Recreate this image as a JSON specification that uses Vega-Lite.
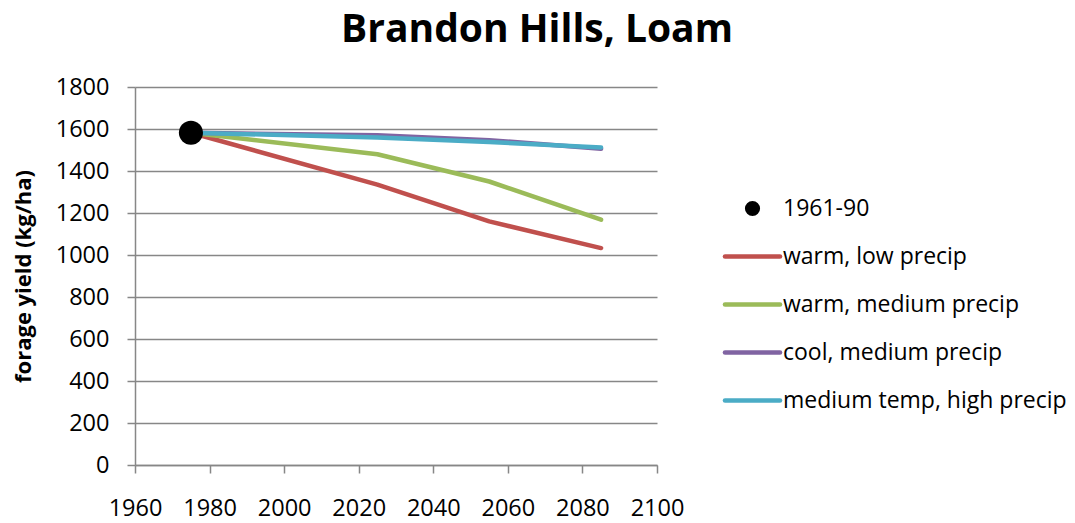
{
  "$schema": "https://vega.github.io/schema/vega-lite/v6.json",
  "autosize": "none",
  "width": 522,
  "height": 378,
  "padding": {"left": 135, "top": 87, "right": 418, "bottom": 58},
  "background": "white",
  "datasets": {
    "baseline": [{"series": "1961-90", "year": 1975, "yield": 1582}],
    "scenarios": [
      {"series": "warm, low precip", "year": 1975, "yield": 1582},
      {"series": "warm, low precip", "year": 2025, "yield": 1335},
      {"series": "warm, low precip", "year": 2055, "yield": 1160},
      {"series": "warm, low precip", "year": 2085, "yield": 1033},
      {"series": "warm, medium precip", "year": 1975, "yield": 1582},
      {"series": "warm, medium precip", "year": 2025, "yield": 1480},
      {"series": "warm, medium precip", "year": 2055, "yield": 1350},
      {"series": "warm, medium precip", "year": 2085, "yield": 1168},
      {"series": "cool, medium precip", "year": 1975, "yield": 1582},
      {"series": "cool, medium precip", "year": 2025, "yield": 1570},
      {"series": "cool, medium precip", "year": 2055, "yield": 1547},
      {"series": "cool, medium precip", "year": 2085, "yield": 1506},
      {"series": "medium temp, high precip", "year": 1975, "yield": 1582},
      {"series": "medium temp, high precip", "year": 2025, "yield": 1560},
      {"series": "medium temp, high precip", "year": 2055, "yield": 1538},
      {"series": "medium temp, high precip", "year": 2085, "yield": 1512}
    ]
  },
  "title": {
    "text": "Brandon Hills, Loam",
    "anchor": "middle",
    "frame": "group",
    "dx": 141,
    "offset": 25,
    "font": "Open Sans",
    "fontSize": 39,
    "fontWeight": "bold",
    "color": "black"
  },
  "config": {
    "view": {"stroke": null},
    "font": "Open Sans",
    "axis": {
      "labelFont": "Open Sans",
      "labelFontSize": 23.5,
      "labelColor": "black",
      "titleFont": "Open Sans",
      "titleColor": "black",
      "domainColor": "#878787",
      "domainWidth": 1.5,
      "tickColor": "#878787",
      "tickWidth": 1.5,
      "tickSize": 8,
      "gridColor": "#878787",
      "gridWidth": 1.5
    }
  },
  "encoding": {
    "x": {
      "field": "year",
      "type": "quantitative",
      "scale": {"domain": [1960, 2100], "nice": false, "zero": false},
      "axis": {
        "title": null,
        "values": [1960, 1980, 2000, 2020, 2040, 2060, 2080, 2100],
        "format": "d",
        "grid": false,
        "labelPadding": 23,
        "labelFlush": false,
        "labelOverlap": false
      }
    },
    "y": {
      "field": "yield",
      "type": "quantitative",
      "scale": {"domain": [0, 1800], "nice": false},
      "axis": {
        "title": "forage yield (kg/ha)",
        "titleFontSize": 22,
        "titleFontWeight": "bold",
        "titlePadding": 20,
        "values": [0, 200, 400, 600, 800, 1000, 1200, 1400, 1600, 1800],
        "format": "d",
        "grid": true,
        "labelPadding": 18,
        "labelFlush": false,
        "labelOverlap": false
      }
    },
    "color": {
      "field": "series",
      "type": "nominal",
      "scale": {
        "domain": ["1961-90", "warm, low precip", "warm, medium precip", "cool, medium precip", "medium temp, high precip"],
        "range": ["#000000", "#C0504D", "#9BBB59", "#8064A2", "#4BACC6"]
      },
      "legend": {
        "title": null,
        "orient": "none",
        "legendX": 606,
        "legendY": 110,
        "padding": 0,
        "labelFont": "Open Sans",
        "labelFontSize": 23,
        "labelColor": "black",
        "labelOffset": 19,
        "labelLimit": 400,
        "rowPadding": 24,
        "symbolSize": 230,
        "symbolOffset": 0,
        "encode": {
          "symbols": {
            "update": {
              "shape": {"signal": "datum.value === '1961-90' ? 'circle' : 'M-3.63,0H3.63'"},
              "size": {"value": 230},
              "fill": {"signal": "datum.value === '1961-90' ? '#000000' : 'transparent'"},
              "stroke": {"signal": "datum.value === '1961-90' ? 'transparent' : scale('color', datum.value)"},
              "strokeWidth": {"signal": "datum.value === '1961-90' ? 0 : 4.5"},
              "strokeCap": {"value": "round"},
              "opacity": {"value": 1},
              "fillOpacity": {"value": 1},
              "strokeOpacity": {"value": 1}
            }
          }
        }
      }
    }
  },
  "layer": [
    {
      "data": {"name": "scenarios"},
      "mark": {"type": "line", "strokeWidth": 4.5, "strokeCap": "round", "strokeJoin": "round"},
      "encoding": {
        "order": {"field": "year", "type": "quantitative"}
      }
    },
    {
      "data": {"name": "baseline"},
      "mark": {"type": "point", "filled": true, "size": 580, "opacity": 1}
    }
  ]
}
